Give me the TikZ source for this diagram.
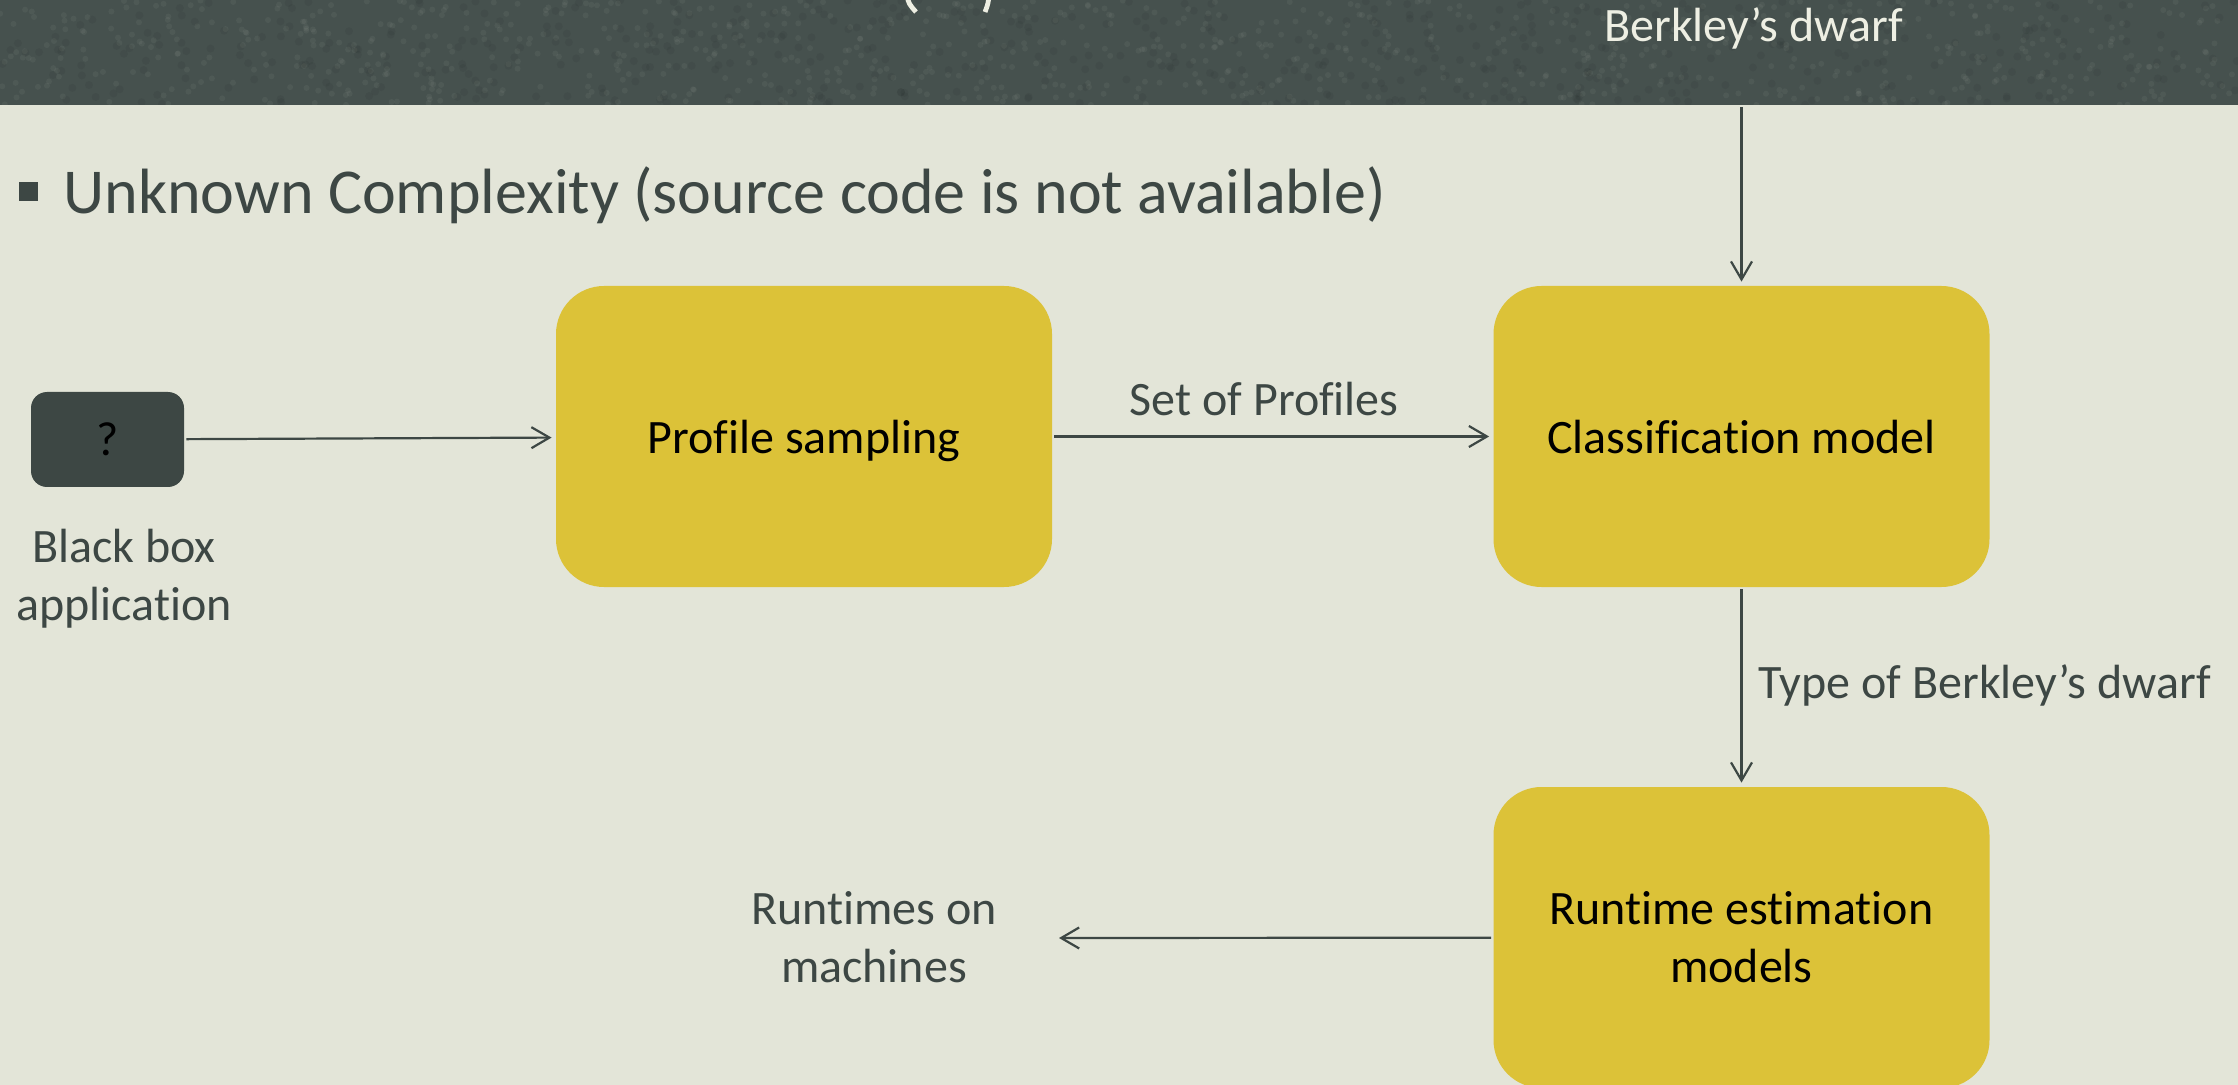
\documentclass[tikz,border=0pt]{standalone}
\usepackage{fontspec}
\setmainfont{Carlito}[Ligatures=NoCommon]
\usetikzlibrary{arrows.meta}
\definecolor{slate}{HTML}{46514E}
\definecolor{paper}{HTML}{E3E5D8}
\definecolor{ink}{HTML}{3D4744}
\definecolor{mustard}{HTML}{DCC238}
\definecolor{chalk}{HTML}{EEEFE3}
\begin{document}
\begin{tikzpicture}[x=0.5pt,y=-0.5pt,
  stage/.style={rectangle, rounded corners=24pt, fill=mustard, minimum width=248pt,
    minimum height=150.5pt, inner sep=0pt, align=center, text=black,
    font=\fontsize{24}{29}\selectfont},
  note/.style={inner sep=0pt, text=ink, align=center,
    font=\fontsize{24}{29}\selectfont},
  flow/.style={draw=ink, line width=1.1pt,
    -{Straight Barb[length=9pt,width=10.5pt]}, shorten >=2pt, shorten <=1pt}]

% page and header band
\fill[paper] (0,0) rectangle (2238,1085);
\useasboundingbox (0,0) rectangle (2238,1085);
\fill[slate] (0,0) rectangle (2238,105);
% chalkboard speckle on the band
\pgfmathsetseed{7}
\begin{scope}
  \clip (0,0) rectangle (2238,105);
  \foreach \i in {1,...,900}{
    \fill[chalk, opacity=0.05] (rnd*2238, rnd*105) circle (1.5pt);
  }
  \foreach \i in {1,...,500}{
    \fill[black, opacity=0.05] (rnd*2238, rnd*105) circle (2pt);
  }
\end{scope}
% lower ends of the title parentheses
\draw[chalk, line width=2.4pt] (907,-4) .. controls (909,4) .. (916,12);
\draw[chalk, line width=2.4pt] (989,-4) .. controls (988,4) .. (985,12);
\node[anchor=base, inner sep=0pt, text=chalk, font=\fontsize{24}{29}\selectfont]
  (dwarf) at (1753.5,42) {Berkley’s dwarf};

% bullet line
\fill[ink] (19,182) rectangle (38,201);
\node[anchor=base west, inner sep=0pt, text=ink, font=\fontsize{32}{38}\selectfont]
  (topic) at (63,214) {Unknown Complexity (source code is not available)};

% black box application
\node[rectangle, rounded corners=8pt, fill=ink, minimum width=76.5pt,
  minimum height=47.5pt, inner sep=0pt, text=black,
  font=\fontsize{24}{29}\selectfont] (bb) at (107.5,439.5) {?};
\node[note, anchor=base] (bbl) at (124,620) {Black box\\application};

% pipeline stages
\node[stage, text depth=0pt] (ps) at (804,436.5) {Profile sampling};
\node[stage, text depth=0pt] (cm) at (1741.5,436.5) {Classification model};
\node[stage] (rt) at (1741.5,937.5) {Runtime estimation\\models};
\node[note, anchor=base] (rtl) at (874,982) {Runtimes on\\machines};

\coordinate (feed) at (1741.5,105);
\coordinate (outp) at (1055,938);

% connectors
\draw[flow] (bb) -- (ps);
\draw[flow] (ps) -- node[note, midway, anchor=base, yshift=10.25pt, xshift=-4.25pt]
  {Set of Profiles} (cm);
\draw[flow] (feed) -- (cm);
\draw[flow] (cm) -- node[note, midway, anchor=base west, yshift=-5.5pt, xshift=8pt]
  {Type of Berkley’s dwarf} (rt);
\draw[flow] (rt) -- (outp);
\end{tikzpicture}
\end{document}
